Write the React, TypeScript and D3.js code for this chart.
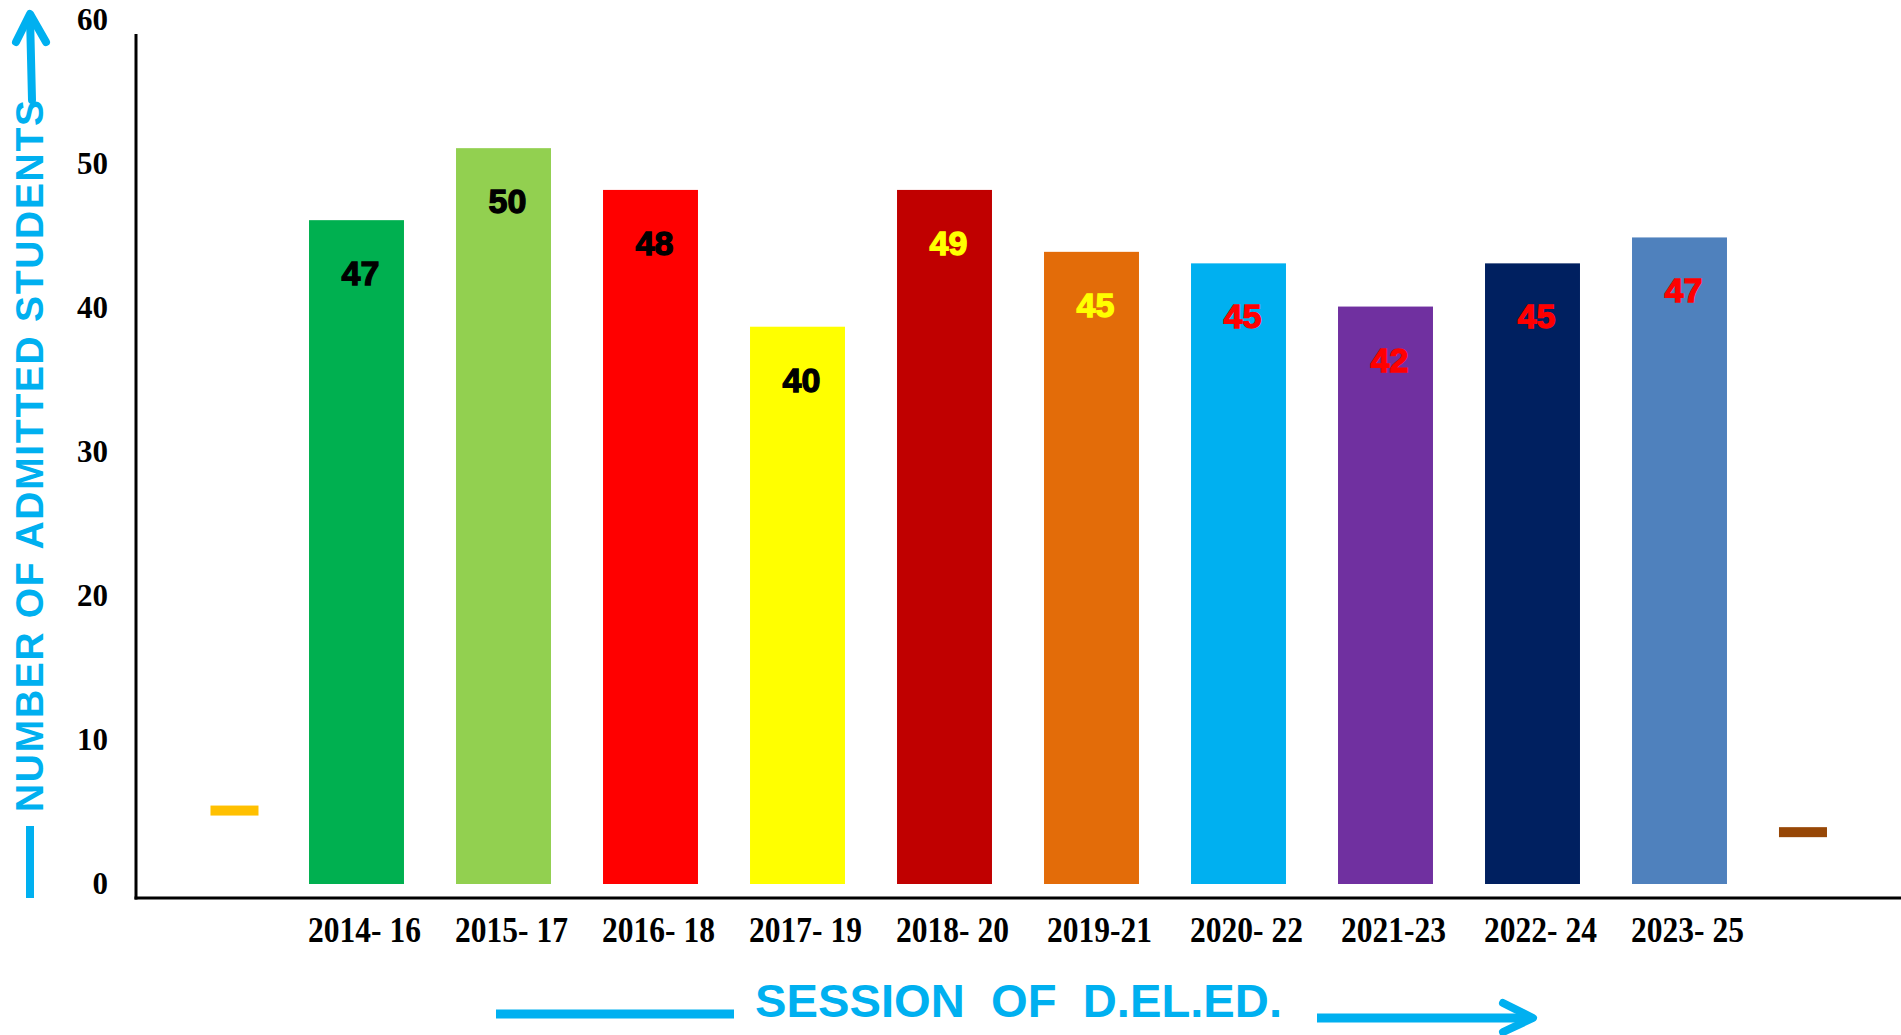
import React from "react";
import * as d3 from "d3";

const categories = ["2014- 16", "2015- 17", "2016- 18", "2017- 19", "2018- 20", "2019-21", "2020- 22", "2021-23", "2022- 24", "2023- 25"];
const barValues = [46.1, 51.1, 48.2, 38.7, 48.2, 43.9, 43.1, 40.1, 43.1, 44.9];
const barLabels = ["47", "50", "48", "40", "49", "45", "45", "42", "45", "47"];
const barColors = ["#00B050", "#92D050", "#FF0000", "#FFFF00", "#C00000", "#E36C09", "#00B0F0", "#7030A0", "#002060", "#4F81BD"];
const labelColors = ["#000000", "#000000", "#000000", "#000000", "#FFFF00", "#FFFF00", "#FF0000", "#FF0000", "#FF0000", "#FF0000"];
const yTicks = [0, 10, 20, 30, 40, 50, 60];
// small floating dash marks: position in category-index units, value
const dashPositions = [-0.83, 9.84];
const dashValues = [5.1, 3.6];
const dashColors = ["#FFC000", "#974706"];

const W = 1901;
const H = 1035;
const serif = "'Liberation Serif', 'Times New Roman', serif";
const sans = "'Liberation Sans', Arial, sans-serif";
const BLUE = "#00B0F0";

export default function App() {
  const y = d3.scaleLinear().domain([0, 60]).range([884, 20]);
  const x = d3.scaleBand<string>().domain(categories).range([283, 1753]).paddingInner(0.354).paddingOuter(0.177);
  const xi = d3.scaleLinear().domain([0, categories.length - 1]).range([x(categories[0])! + x.bandwidth() / 2, x(categories[categories.length - 1])! + x.bandwidth() / 2]);
  const bw = x.bandwidth();
  const dashW = 48;
  const dashH = 10;

  return (
    <svg width={W} height={H} style={{ position: "absolute", left: 0, top: 0, display: "block", background: "#fff" }}>
      <rect x={0} y={0} width={W} height={H} fill="#fff" />
      {/* bars */}
      {categories.map((c, i) => (
        <rect key={c} x={x(c)} y={y(barValues[i])} width={bw} height={y(0) - y(barValues[i])} fill={barColors[i]} />
      ))}
      {/* value labels */}
      {categories.map((c, i) => (
        <text key={"l" + c} x={x(c)! + bw / 2 + 4} y={y(barValues[i]) + 65} textAnchor="middle" fontFamily={sans} fontWeight={700} fontSize={34} fill={labelColors[i]} stroke={labelColors[i]} strokeWidth={1.3}>
          {barLabels[i]}
        </text>
      ))}
      {/* dash marks */}
      {dashPositions.map((p, i) => (
        <rect key={"d" + i} x={xi(p) - dashW / 2} y={y(dashValues[i]) - dashH / 2} width={dashW} height={dashH} fill={dashColors[i]} />
      ))}
      {/* axes */}
      <line x1={136} y1={34} x2={136} y2={899.5} stroke="#000" strokeWidth={3} />
      <line x1={134.5} y1={898} x2={W} y2={898} stroke="#000" strokeWidth={3} />
      {yTicks.map((t) => (
        <text key={"y" + t} x={108} y={y(t) + 10} textAnchor="end" fontFamily={serif} fontWeight={700} fontSize={31} fill="#000">
          {t}
        </text>
      ))}
      {categories.map((c) => (
        <text key={"x" + c} transform={`translate(${x(c)! + bw / 2 + 8},942) scale(0.9,1)`} textAnchor="middle" fontFamily={serif} fontWeight={700} fontSize={35} fill="#000">
          {c}
        </text>
      ))}
      {/* y-axis title with arrow */}
      <text transform="translate(43,456) rotate(-90)" textAnchor="middle" fontFamily={sans} fontWeight={700} fontSize={39} fill={BLUE} textLength={712} lengthAdjust="spacing">
        NUMBER OF ADMITTED STUDENTS
      </text>
      <line x1={30} y1={826} x2={30} y2={898} stroke={BLUE} strokeWidth={8} />
      <line x1={32} y1={100} x2={30} y2={16} stroke={BLUE} strokeWidth={8} strokeLinecap="round" />
      <polyline points="16,42 30,14 46,42" fill="none" stroke={BLUE} strokeWidth={8} strokeLinecap="round" strokeLinejoin="round" />
      {/* x-axis title with arrows */}
      <text x={755} y={1017} fontFamily={sans} fontWeight={700} fontSize={46} fill={BLUE} style={{ whiteSpace: "pre" }} textLength={527} lengthAdjust="spacingAndGlyphs">
        {"SESSION  OF  D.EL.ED."}
      </text>
      <line x1={496} y1={1014} x2={734} y2={1014} stroke={BLUE} strokeWidth={9} />
      <line x1={1317} y1={1018} x2={1530} y2={1018} stroke={BLUE} strokeWidth={9} />
      <polyline points="1503,1003 1533,1018 1503,1032" fill="none" stroke={BLUE} strokeWidth={8} strokeLinecap="round" strokeLinejoin="round" />
    </svg>
  );
}
